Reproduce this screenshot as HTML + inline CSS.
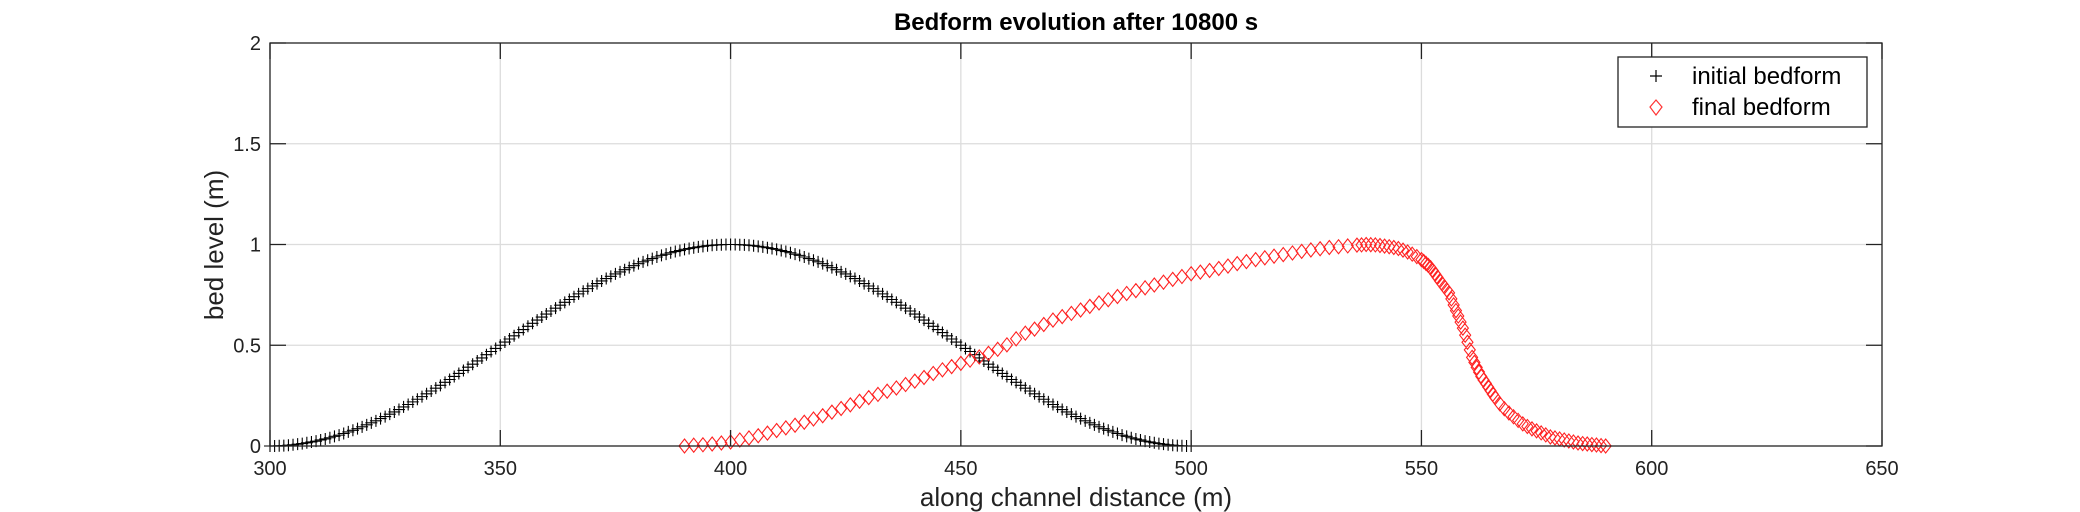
<!DOCTYPE html>
<html><head><meta charset="utf-8"><style>
html,body{margin:0;padding:0;background:#fff;}
svg{display:block;font-family:"Liberation Sans",Arial,sans-serif;}
</style></head><body>
<svg id="chart" width="2080" height="512" viewBox="0 0 2080 512" xmlns="http://www.w3.org/2000/svg">
<rect x="0" y="0" width="2080" height="512" fill="#fff"/>
<g id="grid"></g>
<g id="series"></g>
<g id="axes"></g>
<text x="1076" y="30" text-anchor="middle" font-size="24" font-weight="bold" fill="#000">Bedform evolution after 10800 s</text>
<text x="1076" y="506" text-anchor="middle" font-size="26" fill="#222">along channel distance (m)</text>
<text transform="translate(223,245) rotate(-90)" text-anchor="middle" font-size="26" fill="#222">bed level (m)</text>
<g>
<rect x="1618" y="57" width="249" height="70" fill="#fff" stroke="#222" stroke-width="1.3"/>
<g>
<path d="M1650 76 h12 M1656 70 v12" stroke="#000" stroke-width="1.2"/>
<text x="1692" y="84" font-size="24" fill="#000">initial bedform</text>
</g>
<g>
<path d="M1656 100 L1662 107 L1656 115 L1650 107 Z" fill="none" stroke="#f33" stroke-width="1.2"/>
<text x="1692" y="115" font-size="24" fill="#000">final bedform</text>
</g>
</g>
</svg>
<script>
const xTicks=[300,350,400,450,500,550,600,650];
const yTicks=[0,0.5,1,1.5,2];
const yTickLabels=["0","0.5","1","1.5","2"];
const initialStartX=300;
const initialY=[0,0,0.001,0.002,0.004,0.006,0.009,0.012,0.016,0.020,0.024,0.030,0.035,0.041,0.048,0.054,0.062,0.070,0.078,0.086,0.095,0.105,0.115,0.125,0.136,0.146,0.158,0.169,0.181,0.194,0.206,0.219,0.232,0.245,0.259,0.273,0.287,0.301,0.316,0.330,0.345,0.360,0.375,0.391,0.406,0.422,0.437,0.453,0.469,0.484,
0.500,0.516,0.531,0.547,0.563,0.578,0.594,0.609,0.625,0.640,0.655,0.670,0.684,0.699,0.713,0.727,0.741,0.755,0.768,0.781,0.794,0.806,0.819,0.831,0.842,0.854,0.864,0.875,0.885,0.895,0.905,0.914,0.922,0.930,0.938,0.946,0.952,0.959,0.965,0.970,0.976,0.980,0.984,0.988,0.991,0.994,0.996,0.998,0.999,1.000,1.000,
1.000,0.999,0.998,0.996,0.994,0.991,0.988,0.984,0.980,0.976,0.970,0.965,0.959,0.952,0.946,0.938,0.930,0.922,0.914,0.905,0.895,0.885,0.875,0.864,0.854,0.842,0.831,0.819,0.806,0.794,0.781,0.768,0.755,0.741,0.727,0.713,0.699,0.684,0.670,0.655,0.640,0.625,0.609,0.594,0.578,0.563,0.547,0.531,0.516,0.500,
0.484,0.469,0.453,0.437,0.422,0.406,0.391,0.375,0.360,0.345,0.330,0.316,0.301,0.287,0.273,0.259,0.245,0.232,0.219,0.206,0.194,0.181,0.169,0.158,0.146,0.136,0.125,0.115,0.105,0.095,0.086,0.078,0.070,0.062,0.054,0.048,0.041,0.035,0.030,0.024,0.020,0.016,0.012,0.009,0.006,0.004,0.002,0.001,0,0];
const finalX=[390,392,394,396,398,400,402,404,406,408,410,412,414,416,418,420,422,424,426,428,430,432,434,436,438,440,442,444,446,448,450,452,454,456,458,460,462,464,466,468,470,472,474,476,478,480,482,484,486,488,490,492,494,496,498,500,502,504,506,508,510,512,514,516,518,520,522,524,526,528,530,532,534,536,537,538,539,540,541,542,543,544,545,546,547,548,549,550,550.5,551,551.5,552,552.5,553,553.5,554,554.5,555,555.5,556,556.5,557,557.5,558,558.5,559,559.5,560,560.5,561,561.5,562,562.5,563,563.5,564,564.5,565,565.5,566,567,568,569,570,571,572,573,574,575,576,577,578,579,580,581,582,583,584,585,586,587,588,589,590];
const finalY=[0,0.004,0.006,0.01,0.015,0.02,0.03,0.04,0.051,0.064,0.077,0.09,0.103,0.118,0.134,0.15,0.168,0.186,0.204,0.222,0.24,0.256,0.272,0.288,0.305,0.322,0.34,0.36,0.378,0.394,0.41,0.426,0.442,0.46,0.48,0.502,0.532,0.56,0.58,0.603,0.625,0.642,0.658,0.675,0.693,0.71,0.726,0.742,0.757,0.771,0.785,0.799,0.813,0.827,0.841,0.855,0.863,0.871,0.881,0.893,0.905,0.915,0.925,0.934,0.942,0.95,0.958,0.966,0.973,0.979,0.985,0.989,0.993,0.997,0.998,1.0,0.999,0.998,0.995,0.992,0.989,0.985,0.98,0.972,0.963,0.952,0.94,0.925,0.916,0.906,0.896,0.885,0.87,0.853,0.837,0.82,0.805,0.79,0.775,0.76,0.73,0.70,0.672,0.645,0.615,0.585,0.55,0.515,0.477,0.44,0.415,0.39,0.367,0.345,0.327,0.31,0.292,0.275,0.257,0.24,0.21,0.185,0.164,0.145,0.127,0.11,0.097,0.085,0.075,0.065,0.055,0.045,0.04,0.035,0.03,0.025,0.02,0.015,0.012,0.01,0.007,0.005,0.002,0];

const NS="http://www.w3.org/2000/svg";
const L=270,R=1882,T=43,B=446,X0=300,X1=650,Y0=0,Y1=2;
function sx(v){return L+(v-X0)/(X1-X0)*(R-L);}
function sy(v){return B-(v-Y0)/(Y1-Y0)*(B-T);}
function mk(tag,attrs,parent){const e=document.createElementNS(NS,tag);for(const k in attrs)e.setAttribute(k,attrs[k]);parent.appendChild(e);return e;}
const grid=document.getElementById('grid'),axes=document.getElementById('axes'),series=document.getElementById('series');
xTicks.forEach(function(t){
  const x=sx(t);
  if(t>X0&&t<X1){const g=mk('line',{x1:x,x2:x,y1:T,y2:B,stroke:'#dcdcdc','stroke-width':1.3},grid);
  
  }
  const tk=mk('path',{d:'M'+x+' '+B+' v-16 M'+x+' '+T+' v16',stroke:'#222','stroke-width':1.3},axes);
  
  
  const lb=mk('text',{x:x,y:475,'text-anchor':'middle','font-size':20,fill:'#222'},axes);
  lb.textContent=String(t);
  
  
});
yTicks.forEach(function(t,i){
  const y=sy(t);
  if(t>Y0&&t<Y1){const g=mk('line',{x1:L,x2:R,y1:y,y2:y,stroke:'#dcdcdc','stroke-width':1.3},grid);
  
  }
  const tk=mk('path',{d:'M'+L+' '+y+' h16 M'+R+' '+y+' h-16',stroke:'#222','stroke-width':1.3},axes);
  
  
  const lb=mk('text',{x:261,y:y+7,'text-anchor':'end','font-size':20,fill:'#222'},axes);
  lb.textContent=yTickLabels[i];
  
  
});
const frame=mk('rect',{x:L,y:T,width:R-L,height:B-T,fill:'none',stroke:'#222','stroke-width':1.3},axes);


let pd='';
initialY.forEach(function(v,i){const x=sx(initialStartX+i),y=sy(v);pd+='M'+(x-6)+' '+y+'h12M'+x+' '+(y-6)+'v12';});
const p1=mk('path',{d:pd,stroke:'#000','stroke-width':1.1,fill:'none'},series);


let dd='';
finalX.forEach(function(v,i){const x=sx(v),y=sy(finalY[i]);dd+='M'+x+' '+(y-7)+'L'+(x+5.5)+' '+y+'L'+x+' '+(y+7)+'L'+(x-5.5)+' '+y+'Z';});
const p2=mk('path',{d:dd,stroke:'#f22','stroke-width':1.1,fill:'none'},series);


</script>
</body></html>
